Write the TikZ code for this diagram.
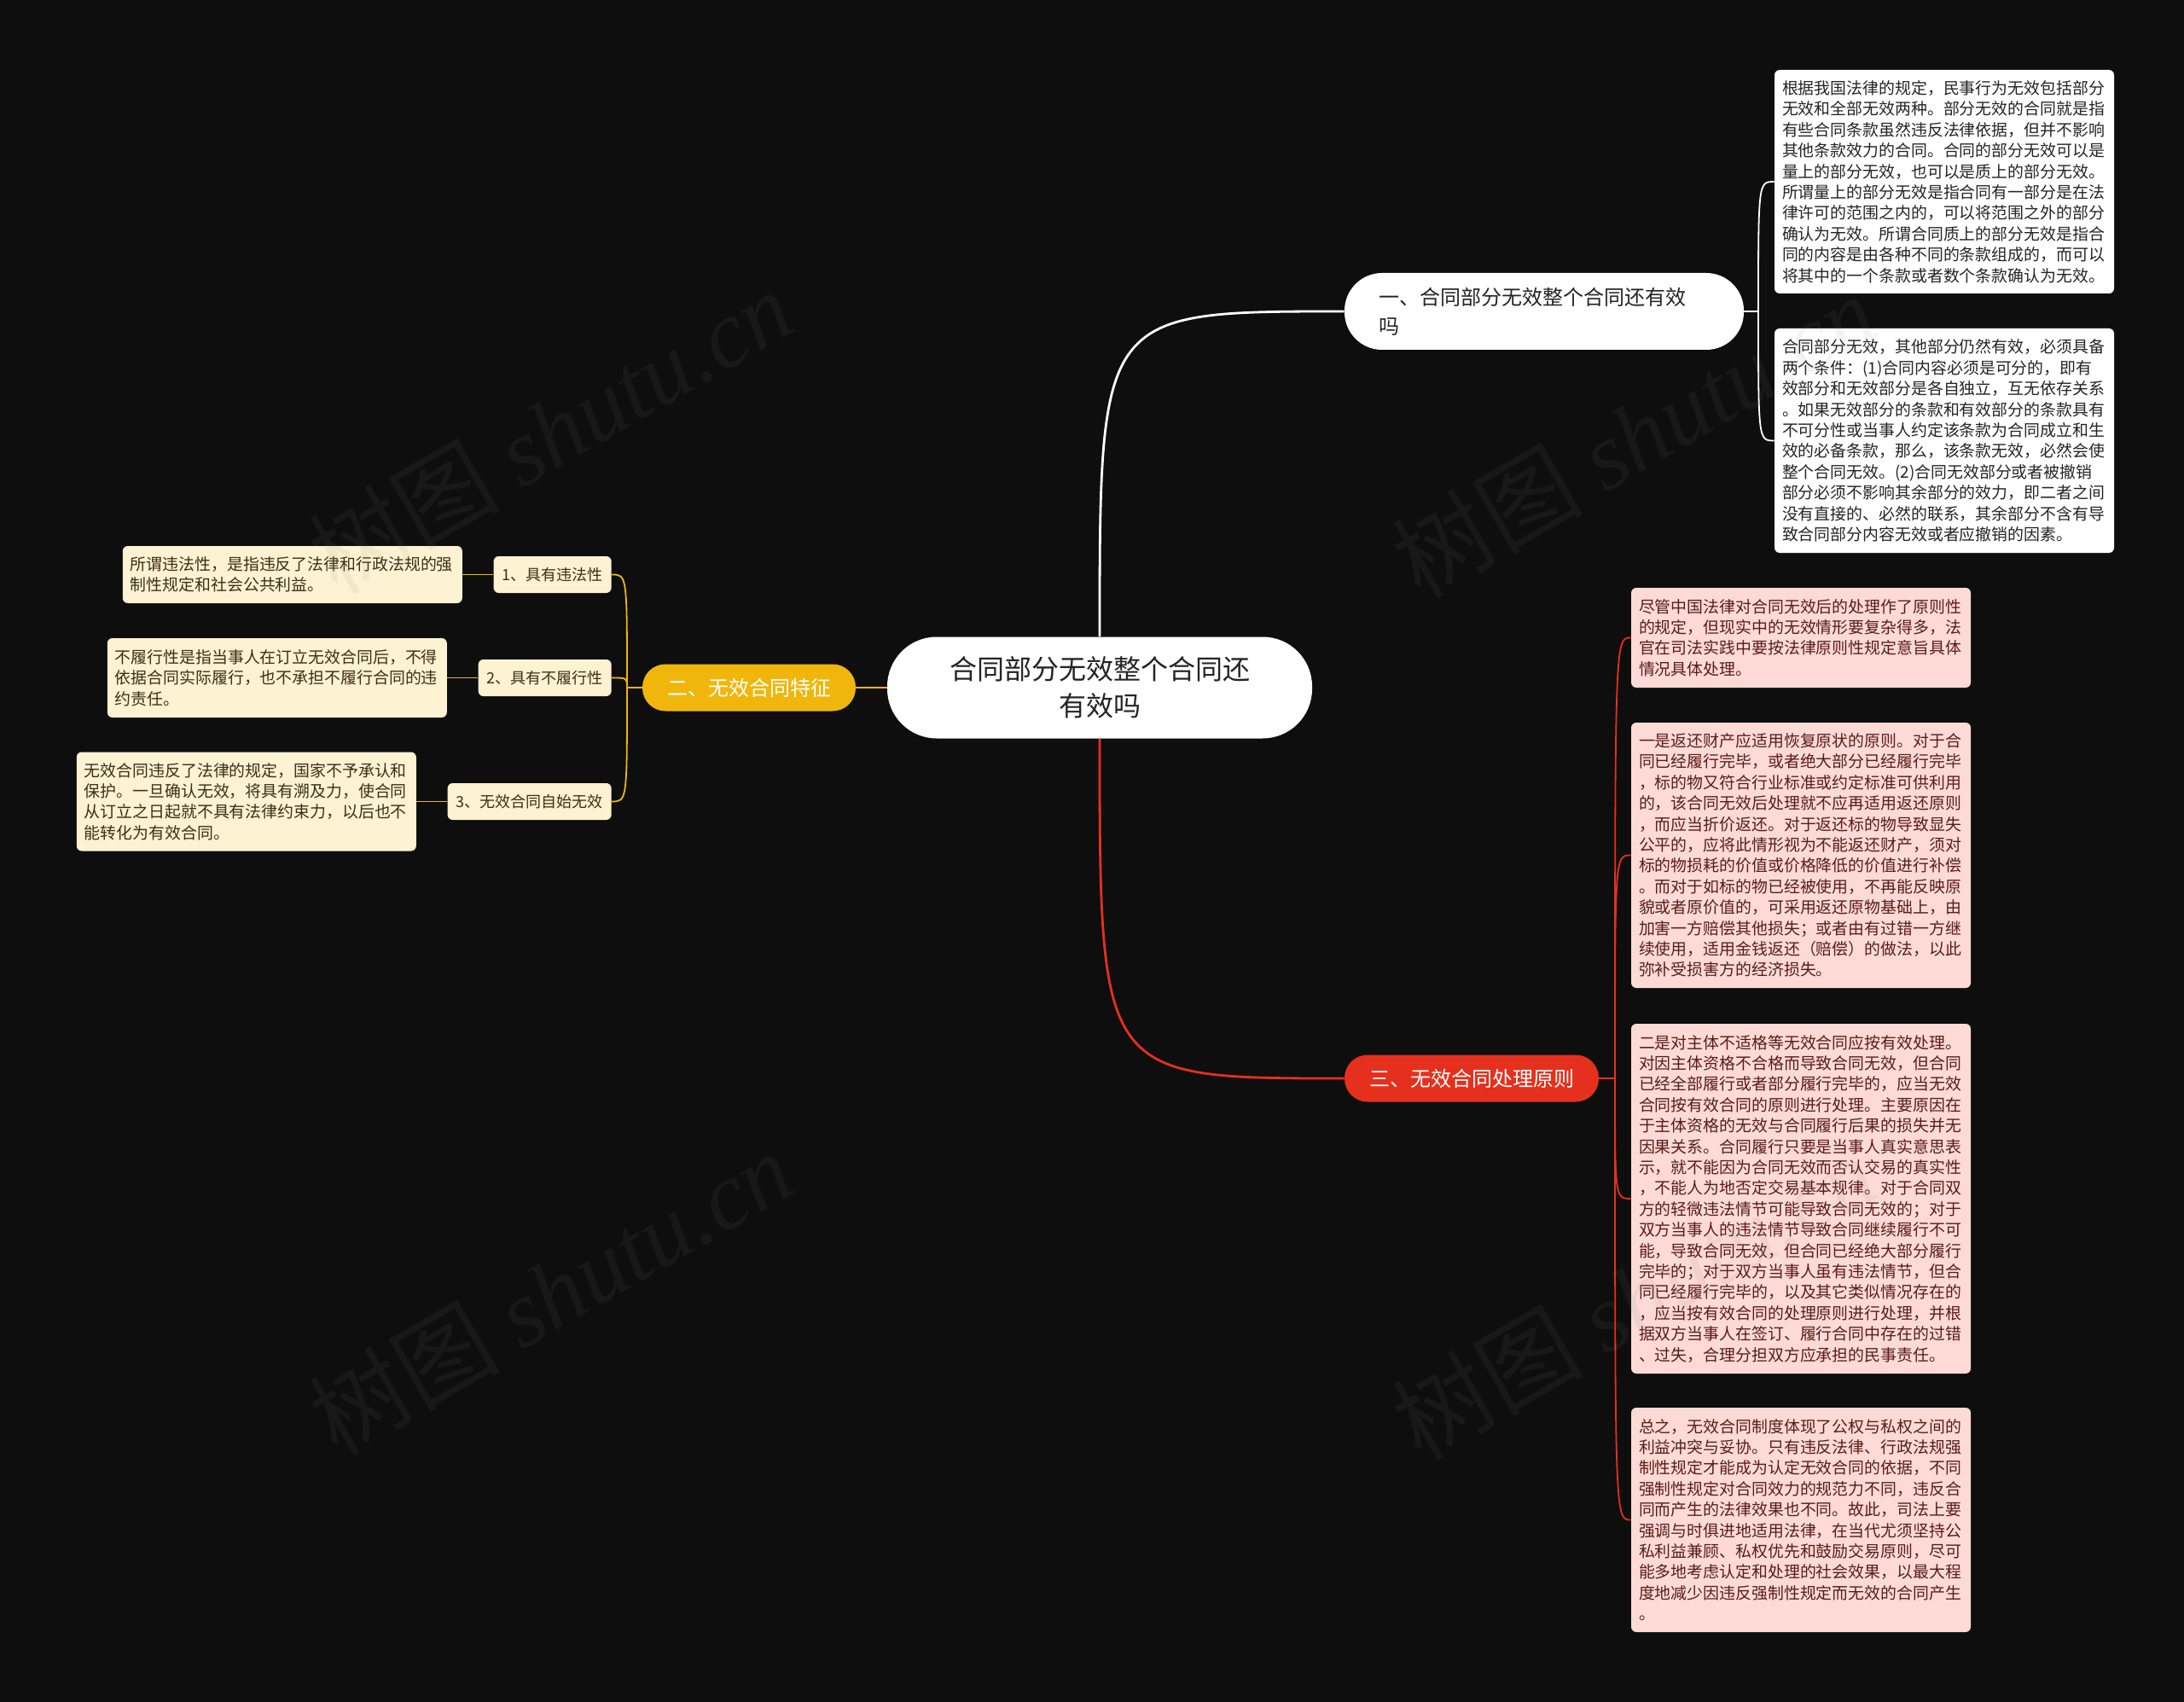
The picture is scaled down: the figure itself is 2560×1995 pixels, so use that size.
\documentclass[tikz,border=0pt]{standalone}
\usepackage{fontspec}
\setmainfont{Noto Sans CJK SC}
\newfontfamily\wmserif{Liberation Serif}
\usetikzlibrary{positioning}
\definecolor{bgdark}{RGB}{14,14,14}
\definecolor{mapyellow}{RGB}{240,182,12}
\definecolor{mapred}{RGB}{230,48,30}
\definecolor{leafpink}{RGB}{253,218,214}
\definecolor{leafcream}{RGB}{253,242,210}
\definecolor{inkpink}{RGB}{88,28,26}
\definecolor{inkcream}{RGB}{62,46,18}
\definecolor{inkdark}{RGB}{36,36,36}

\begin{document}
\begin{tikzpicture}[
  x=0.5pt, y=-0.5pt,
  rootbox/.style={fill=white, rounded corners=29pt, minimum width=249pt, minimum height=59.5pt, align=center, text=inkdark, font=\fontsize{16pt}{21.5pt}\selectfont},
  mainwhite/.style={fill=white, rounded corners=22pt, minimum height=45pt, text width=194pt, inner xsep=20pt, align=left, text=inkdark, font=\fontsize{12pt}{17pt}\selectfont},
  mainfill/.style={rounded corners=13.5pt, minimum height=27.5pt, inner xsep=14.5pt, text=white, font=\fontsize{12pt}{14pt}\selectfont},
  leafbox/.style={rounded corners=3pt, text width=190pt, inner xsep=4.5pt, inner ysep=6pt, align=left, font=\fontsize{9.45pt}{12.2pt}\selectfont},
  whiteleaf/.style={leafbox, fill=white, text=inkdark},
  pinkleaf/.style={leafbox, fill=leafpink, text=inkpink},
  creamleaf/.style={leafbox, fill=leafcream, text=inkcream},
  subbox/.style={fill=leafcream, rounded corners=3pt, minimum height=21.5pt, inner xsep=5pt, text=inkcream, font=\fontsize{9pt}{11pt}\selectfont},
  wline/.style={draw=white, line width=1.4pt},
  wthin/.style={draw=white, line width=0.9pt},
  yline/.style={draw=mapyellow, line width=1.4pt},
  ythin/.style={draw=mapyellow, line width=0.9pt},
  rline/.style={draw=mapred, line width=1.4pt},
  rthin/.style={draw=mapred, line width=0.9pt},
  wmark/.style={text=gray, text opacity=0.09, rotate=30, font=\fontsize{56pt}{56pt}\selectfont}
]
  \fill[bgdark] (0,0) rectangle (2560,1995);

  % centre and main branches
  \node[rootbox] (root) at (1289,806) {合同部分无效整个合同还\\有效吗};
  \node[mainwhite] (b1) at (1810,365) {一、合同部分无效整个合同还有效\\吗};
  \node[mainfill, fill=mapyellow] (b2) at (878,806) {二、无效合同特征};
  \node[mainfill, fill=mapred] (b3) at (1725,1264) {三、无效合同处理原则};

  % branch 1
  \node[whiteleaf, minimum height=131pt] (w1) at (2279,213) {根据我国法律的规定，民事行为无效包括部分\\无效和全部无效两种。部分无效的合同就是指\\有些合同条款虽然违反法律依据，但并不影响\\其他条款效力的合同。合同的部分无效可以是\\量上的部分无效，也可以是质上的部分无效。\\所谓量上的部分无效是指合同有一部分是在法\\律许可的范围之内的，可以将范围之外的部分\\确认为无效。所谓合同质上的部分无效是指合\\同的内容是由各种不同的条款组成的，而可以\\将其中的一个条款或者数个条款确认为无效。};
  \node[whiteleaf, minimum height=131.5pt] (w2) at (2279,516.5) {合同部分无效，其他部分仍然有效，必须具备\\两个条件：(1)合同内容必须是可分的，即有\\效部分和无效部分是各自独立，互无依存关系\\。如果无效部分的条款和有效部分的条款具有\\不可分性或当事人约定该条款为合同成立和生\\效的必备条款，那么，该条款无效，必然会使\\整个合同无效。(2)合同无效部分或者被撤销\\部分必须不影响其余部分的效力，即二者之间\\没有直接的、必然的联系，其余部分不含有导\\致合同部分内容无效或者应撤销的因素。};

  % branch 2
  \node[subbox, anchor=east] (s1) at (717,673.5) {1、具有违法性};
  \node[subbox, anchor=east] (s2) at (717,794.5) {2、具有不履行性};
  \node[subbox, anchor=east] (s3) at (717,939.5) {3、无效合同自始无效};
  \node[creamleaf, minimum height=33.5pt, left=18pt of s1] (c1) {所谓违法性，是指违反了法律和行政法规的强\\制性规定和社会公共利益。};
  \node[creamleaf, minimum height=46.5pt, left=18pt of s2] (c2) {不履行性是指当事人在订立无效合同后，不得\\依据合同实际履行，也不承担不履行合同的违\\约责任。};
  \node[creamleaf, minimum height=58pt, left=18pt of s3] (c3) {无效合同违反了法律的规定，国家不予承认和\\保护。一旦确认无效，将具有溯及力，使合同\\从订立之日起就不具有法律约束力，以后也不\\能转化为有效合同。};

  % branch 3
  \node[pinkleaf, minimum height=58.5pt] (p1) at (2111,747.5) {尽管中国法律对合同无效后的处理作了原则性\\的规定，但现实中的无效情形要复杂得多，法\\官在司法实践中要按法律原则性规定意旨具体\\情况具体处理。};
  \node[pinkleaf, minimum height=155.5pt] (p2) at (2111,1002.5) {一是返还财产应适用恢复原状的原则。对于合\\同已经履行完毕，或者绝大部分已经履行完毕\\，标的物又符合行业标准或约定标准可供利用\\的，该合同无效后处理就不应再适用返还原则\\，而应当折价返还。对于返还标的物导致显失\\公平的，应将此情形视为不能返还财产，须对\\标的物损耗的价值或价格降低的价值进行补偿\\。而对于如标的物已经被使用，不再能反映原\\貌或者原价值的，可采用返还原物基础上，由\\加害一方赔偿其他损失；或者由有过错一方继\\续使用，适用金钱返还（赔偿）的做法，以此\\弥补受损害方的经济损失。};
  \node[pinkleaf, minimum height=205pt] (p3) at (2111,1405) {二是对主体不适格等无效合同应按有效处理。\\对因主体资格不合格而导致合同无效，但合同\\已经全部履行或者部分履行完毕的，应当无效\\合同按有效合同的原则进行处理。主要原因在\\于主体资格的无效与合同履行后果的损失并无\\因果关系。合同履行只要是当事人真实意思表\\示，就不能因为合同无效而否认交易的真实性\\，不能人为地否定交易基本规律。对于合同双\\方的轻微违法情节可能导致合同无效的；对于\\双方当事人的违法情节导致合同继续履行不可\\能，导致合同无效，但合同已经绝大部分履行\\完毕的；对于双方当事人虽有违法情节，但合\\同已经履行完毕的，以及其它类似情况存在的\\，应当按有效合同的处理原则进行处理，并根\\据双方当事人在签订、履行合同中存在的过错\\、过失，合理分担双方应承担的民事责任。};
  \node[pinkleaf, minimum height=131.5pt] (p4) at (2111,1781.5) {总之，无效合同制度体现了公权与私权之间的\\利益冲突与妥协。只有违反法律、行政法规强\\制性规定才能成为认定无效合同的依据，不同\\强制性规定对合同效力的规范力不同，违反合\\同而产生的法律效果也不同。故此，司法上要\\强调与时俱进地适用法律，在当代尤须坚持公\\私利益兼顾、私权优先和鼓励交易原则，尽可\\能多地考虑认定和处理的社会效果，以最大程\\度地减少因违反强制性规定而无效的合同产生\\。};

  % connectors
  \draw[wline] (root.north) .. controls (root.north |- b1.west) and (root.north |- b1.west) .. (b1.west);
  \draw[rline] (root.south) .. controls (root.south |- b3.west) and (root.south |- b3.west) .. (b3.west);
  \draw[yline] (root.west) -- (b2.east);

  \coordinate (j1) at (2061,365);
  \draw[wthin] (b1.east) -- (j1);
  \foreach \n in {w1,w2}
    \draw[wthin] (j1) .. controls (j1 |- \n.west) .. (\n.west);

  \coordinate (j2) at (735,806);
  \draw[ythin] (b2.west) -- (j2);
  \foreach \n in {s1,s2,s3}
    \draw[ythin] (j2) .. controls (j2 |- \n.east) .. (\n.east);
  \foreach \s/\c in {s1/c1,s2/c2,s3/c3}
    \draw[ythin] (\s.west) -- (\c.east);

  \coordinate (j3) at (1893,1264);
  \draw[rthin] (b3.east) -- (j3);
  \foreach \n in {p1,p2,p3,p4}
    \draw[rthin] (j3) .. controls (j3 |- \n.west) .. (\n.west);

  % watermark
  \node[wmark] (wm1) at (645,505) {树图 {\wmserif\itshape shutu.cn}};
  \node[wmark] (wm2) at (645,1515) {树图 {\wmserif\itshape shutu.cn}};
  \node[wmark] (wm3) at (1915,510) {树图 {\wmserif\itshape shutu.cn}};
  \node[wmark] (wm4) at (1915,1520) {树图 {\wmserif\itshape shutu.cn}};
\end{tikzpicture}
\end{document}
